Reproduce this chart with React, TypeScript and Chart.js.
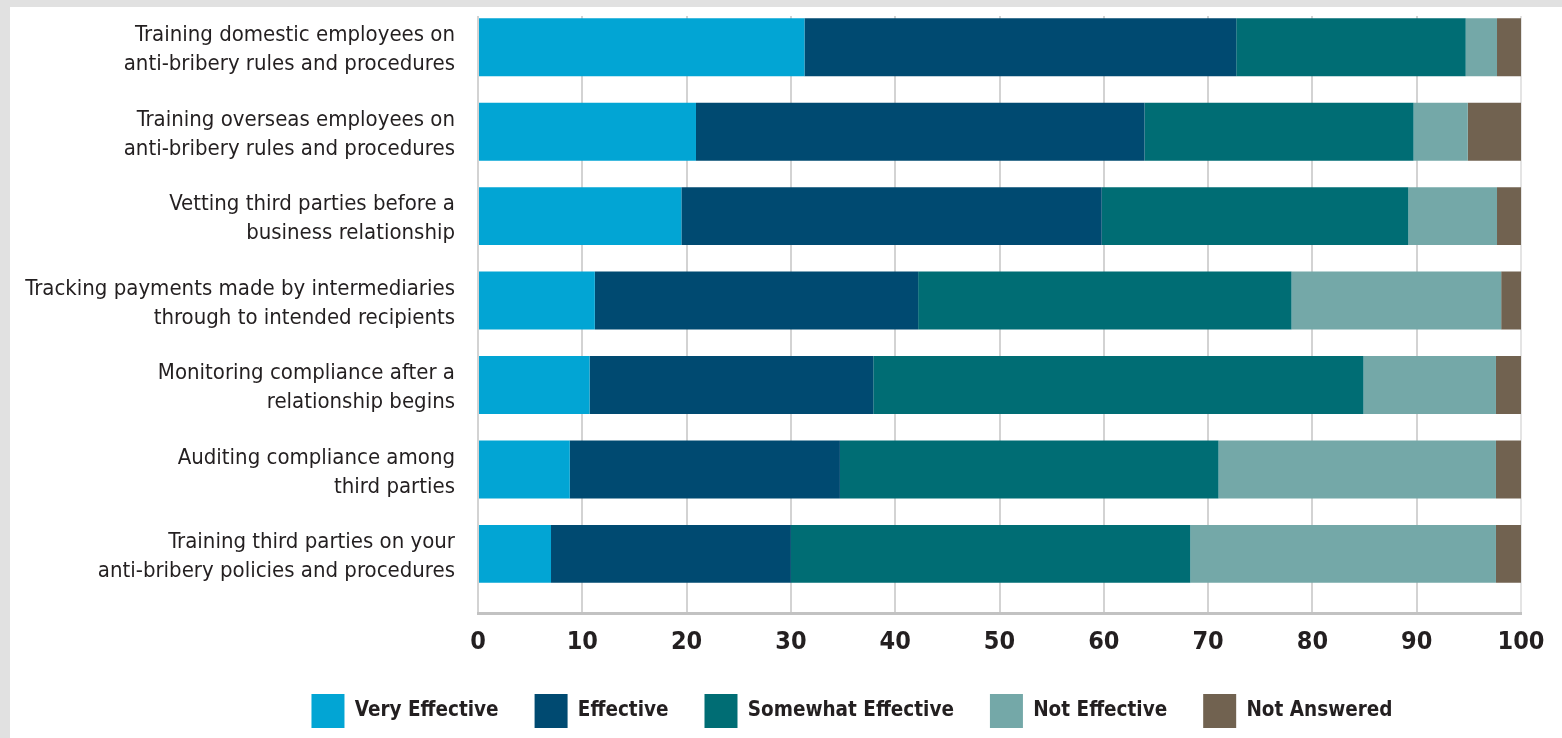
import React, { useEffect, useRef } from "react";
import { Chart, registerables } from "chart.js";

Chart.register(...registerables);

const categories: string[][] = [
  ["Training domestic employees on", "anti-bribery rules and procedures"],
  ["Training overseas employees on", "anti-bribery rules and procedures"],
  ["Vetting third parties before a", "business relationship"],
  ["Tracking payments made by intermediaries", "through to intended recipients"],
  ["Monitoring compliance after a", "relationship begins"],
  ["Auditing compliance among", "third parties"],
  ["Training third parties on your", "anti-bribery policies and procedures"],
];

const seriesNames = ["Very Effective", "Effective", "Somewhat Effective", "Not Effective", "Not Answered"];
const seriesColors = ["#02a5d4", "#004a71", "#006d74", "#74a8a8", "#716250"];

const veryEffective = [31.3, 20.9, 19.5, 11.2, 10.7, 8.8, 7.0];
const effective = [41.4, 43.0, 40.3, 31.0, 27.2, 25.9, 23.0];
const somewhatEffective = [22.0, 25.8, 29.4, 35.8, 47.0, 36.3, 38.3];
const notEffective = [3.0, 5.2, 8.5, 20.1, 12.7, 26.6, 29.3];
const notAnswered = [2.3, 5.1, 2.3, 1.9, 2.4, 2.4, 2.4];

const xTickValues = [0, 10, 20, 30, 40, 50, 60, 70, 80, 90, 100];

const FONT = "'DejaVu Sans Condensed', 'Liberation Sans Narrow', 'DejaVu Sans', sans-serif";
const TEXT = "#231f20";

// lets the long y-axis labels extend past the axis box (the box is narrowed so the legend centres like the original)
const widenYLabelArea = {
  id: "widenYLabelArea",
  afterLayout(chart: any) {
    if (chart.scales.y) chart.scales.y.left = 0;
  },
};

export default function App() {
  const ref = useRef<HTMLCanvasElement | null>(null);

  useEffect(() => {
    if (!ref.current) return;
    const values = [veryEffective, effective, somewhatEffective, notEffective, notAnswered];
    const chart = new Chart(ref.current, {
      type: "bar",
      data: {
        labels: categories.map((_, i) => i),
        datasets: seriesNames.map((name, i) => ({
          label: name,
          data: values[i],
          backgroundColor: seriesColors[i],
          borderWidth: 0,
          categoryPercentage: 1,
          barPercentage: 0.686,
        })),
      },
      plugins: [widenYLabelArea],
      options: {
        responsive: false,
        animation: false,
        indexAxis: "y",
        layout: { padding: { left: 173, right: 41, top: 9, bottom: 0 } },
        plugins: {
          legend: {
            position: "bottom",
            labels: {
              boxWidth: 33,
              boxHeight: 34,
              padding: 36,
              color: TEXT,
              font: { family: FONT, size: 20.5, weight: "bold" },
            },
          },
          tooltip: { enabled: false },
        },
        scales: {
          x: {
            type: "linear",
            stacked: true,
            min: 0,
            max: 100,
            afterBuildTicks: (s: any) => {
              s.ticks = xTickValues.map((v) => ({ value: v }));
            },
            ticks: {
              padding: 14,
              color: TEXT,
              font: { family: FONT, size: 25, weight: "bold" },
            },
            grid: {
              color: (c: any) => (c.tick && c.tick.value === 100 ? "#e4e4e4" : "#d3d3d3"),
              lineWidth: 2,
              drawTicks: false,
            },
            border: { display: true, color: "#c2c2c2", width: 3 },
            afterFit: (s: any) => {
              s.height = 45;
              s.paddingLeft = 0;
              s.paddingRight = 0;
            },
          },
          y: {
            type: "linear",
            stacked: true,
            reverse: true,
            offset: false,
            min: -0.37,
            max: 6.7,
            afterBuildTicks: (s: any) => {
              s.ticks = categories.map((_, i) => ({ value: i }));
            },
            ticks: {
              autoSkip: false,
              padding: 23,
              labelOffset: 3,
              color: TEXT,
              font: { family: FONT, size: 22, lineHeight: 1.32 },
              callback: (v: any) => categories[v as number] ?? "",
            },
            grid: { display: false, drawTicks: false, offset: false },
            border: { display: false },
            afterFit: (s: any) => {
              s.width = 295;
              s.paddingTop = 0;
              s.paddingBottom = 0;
            },
          },
        },
      } as any,
    });
    return () => chart.destroy();
  }, []);

  return (
    <div style={{ position: "fixed", left: 0, top: 0, width: 1562, height: 738, background: "#e1e1e1" }}>
      <div style={{ position: "absolute", left: 10, top: 7, width: 1552, height: 731, background: "#ffffff" }}>
        <canvas ref={ref} width={1552} height={731} style={{ display: "block" }} />
      </div>
    </div>
  );
}
